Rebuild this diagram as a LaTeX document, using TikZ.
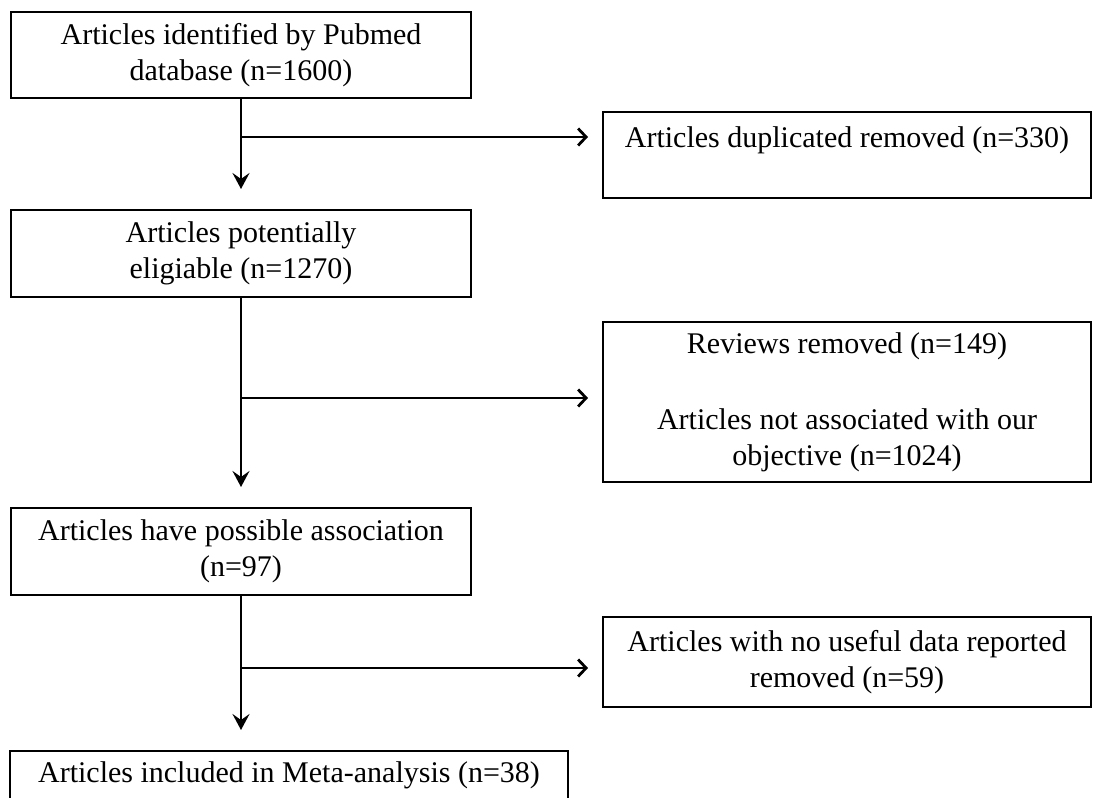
\documentclass[tikz,border=0pt]{standalone}
\usepackage{fontspec}
\setmainfont{Liberation Serif}
\usetikzlibrary{arrows.meta}
\begin{document}
\begin{tikzpicture}[x=1pt,y=-1pt,
  box/.style={draw, line width=2.8pt, inner sep=0pt, outer sep=0pt, align=center,
    anchor=north west, font=\fontsize{30}{36}\selectfont},
  flow/.style={line width=2.8pt, -{Stealth[length=16pt,width=17pt,inset=6pt]}, shorten >=21pt},
  side/.style={line width=2.8pt, -{Straight Barb[length=8pt,width=17pt,line width=2.8pt]}, shorten >=15pt}]
\useasboundingbox (0,0) rectangle (1093,798);
\fill[white] (0,0) rectangle (1093,798);
% left column
\node[box, minimum width=460pt, minimum height=86pt] (b1) at (11,12)
  {Articles identified by Pubmed\\database (n=1600)};
\node[box, minimum width=460pt, minimum height=87pt] (b3) at (11,210)
  {Articles potentially\\eligiable (n=1270)};
\node[box, minimum width=460pt, minimum height=87pt] (b5) at (11,508)
  {Articles have possible association\\(n=97)};
\node[box, minimum width=558pt, minimum height=49pt] (b7) at (10,751)
  {Articles included in Meta-analysis (n=38)};
% right column
\node[box, minimum width=488pt, minimum height=86pt] (b2) at (603,112)
  {Articles duplicated removed (n=330)\\ \mbox{}};
\node[box, minimum width=488pt, minimum height=160pt] (b4) at (603,322)
  {Reviews removed (n=149)\\[40pt]Articles not associated with our\\objective (n=1024)};
\node[box, minimum width=488pt, minimum height=90pt] (b6) at (603,617)
  {Articles with no useful data reported\\removed (n=59)};
% junctions
\coordinate (j1) at (241,137);
\coordinate (j2) at (241,398);
\coordinate (j3) at (241,668);
% main flow
\draw[flow] (b1.south) -- (b3.north);
\draw[flow] (b3.south) -- (b5.north);
\draw[flow] (b5.south) -- (b5.south |- b7.north);
% side branches
\draw[side] (j1) -- (j1 -| b2.west);
\draw[side] (j2) -- (j2 -| b4.west);
\draw[side] (j3) -- (j3 -| b6.west);
\end{tikzpicture}
\end{document}
